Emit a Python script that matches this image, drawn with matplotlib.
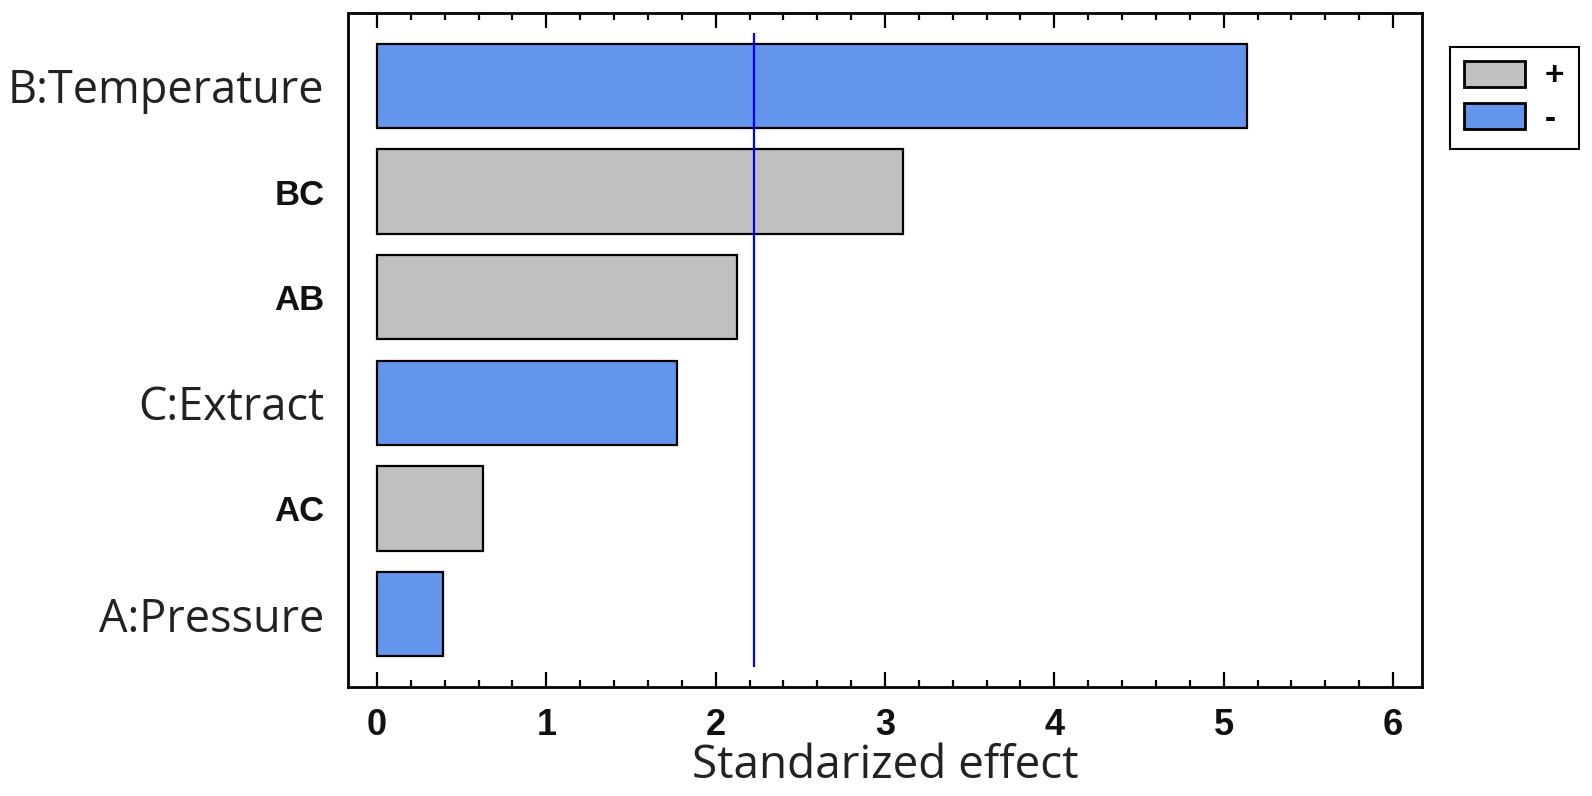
import matplotlib
matplotlib.use('Agg')
import matplotlib.pyplot as plt
from matplotlib.patches import Patch
from matplotlib.ticker import MultipleLocator

# Pareto chart data (top to bottom)
factors = ['B:Temperature', 'BC', 'AB', 'C:Extract', 'AC', 'A:Pressure']
effects = [5.14, 3.107, 2.126, 1.772, 0.626, 0.39]
signs = ['-', '+', '+', '-', '+', '-']
critical_value = 2.228

color_pos = '#C0C0C0'
color_neg = '#6495ED'
colors = [color_pos if s == '+' else color_neg for s in signs]

fig = plt.figure(figsize=(15.92, 7.96), dpi=100)
ax = fig.add_axes([348 / 1592, 1 - 687 / 796, (1422 - 348) / 1592, (687 - 13) / 796])

positions = list(range(len(factors)))
ax.barh(positions, effects, height=0.8, color=colors, edgecolor='black', linewidth=1.6)
ax.vlines(critical_value, -0.5, len(factors) - 0.5, color='#0000FF', linewidth=1.6)

ax.set_xlim(-0.171, 6.171)
ax.set_ylim(len(factors) - 0.31, -0.69)

ax.xaxis.set_major_locator(MultipleLocator(1))
ax.xaxis.set_minor_locator(MultipleLocator(0.2))
ax.tick_params(axis='x', which='major', direction='in', length=11, width=1.6,
               top=True, bottom=True, pad=15)
ax.tick_params(axis='x', which='minor', direction='in', length=5, width=1.6,
               top=True, bottom=True)
ax.tick_params(axis='y', which='both', length=0, pad=17)

ax.set_yticks(positions)
ax.set_yticklabels(factors)
for lab in ax.get_yticklabels():
    if ':' in lab.get_text():
        lab.set_fontfamily('Open Sans')
        lab.set_fontsize(32.5)
        lab.set_color('#222222')
    else:
        lab.set_fontfamily('Liberation Sans')
        lab.set_fontweight('bold')
        lab.set_fontsize(25)
        lab.set_color('#111111')

for lab in ax.get_xticklabels():
    lab.set_fontfamily('Liberation Sans')
    lab.set_fontweight('bold')
    lab.set_fontsize(26)
    lab.set_color('#111111')

ax.set_xlabel('Standarized effect', fontfamily='Open Sans', fontsize=33,
              color='#222222', labelpad=0)

for sp in ax.spines.values():
    sp.set_linewidth(2)

handles = [Patch(facecolor=color_pos, edgecolor='black', linewidth=2, label='+'),
           Patch(facecolor=color_neg, edgecolor='black', linewidth=2, label='-')]
leg = fig.legend(handles=handles, loc='upper left',
                 bbox_to_anchor=(1450 / 1592, 1 - 47 / 796),
                 prop={'family': 'Liberation Sans', 'weight': 'bold', 'size': 24},
                 handlelength=1.83, handleheight=0.81, labelspacing=0.32,
                 handletextpad=0.6, borderpad=0.42, borderaxespad=0,
                 fancybox=False, framealpha=1, edgecolor='black')
leg.get_frame().set_linewidth(1.5)

fig.savefig('out.png', dpi=100)
